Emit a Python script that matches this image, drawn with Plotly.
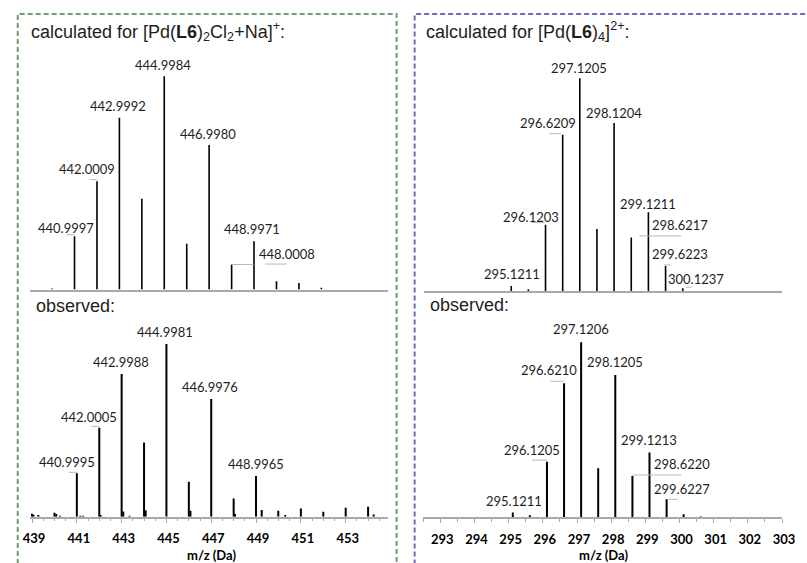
import plotly.graph_objects as go

W, H = 807, 563

# ---------------- data (m/z, relative intensity %) ----------------
calc_L_mz = [440.0000, 440.9997, 442.0009, 442.9992, 444.0000, 444.9984, 446.0000,
             446.9980, 448.0008, 448.9971, 450.0000, 451.0000, 452.0000]
calc_L_int = [0.5, 25.0, 50.8, 80.5, 42.5, 100.0, 21.4, 67.7, 11.7, 22.6, 3.9, 3.1, 0.8]
calc_L_labels = ["440.9997", "442.0009", "442.9992", "444.9984", "446.9980", "448.9971", "448.0008"]

obs_L_mz = [439.00, 439.06, 439.28, 440.00, 440.08, 440.25, 440.9995, 441.15, 441.28,
            442.0005, 442.06, 442.9988, 443.07, 443.35, 443.9990, 444.07, 444.9981,
            445.9985, 446.07, 446.9976, 447.9990, 448.06, 448.9965, 449.25, 449.99,
            450.30, 451.00, 452.00, 453.00, 454.00, 454.25]
obs_L_int = [1.7, 1.2, 1.0, 2.3, 1.5, 0.6, 25.1, 0.5, 0.5,
             51.5, 1.0, 82.6, 3.0, 0.6, 43.0, 3.8, 100.0,
             20.3, 3.5, 68.2, 10.6, 1.5, 23.6, 3.9, 3.5,
             1.0, 4.8, 2.9, 5.2, 5.8, 1.3]
obs_L_labels = ["440.9995", "442.0005", "442.9988", "444.9981", "446.9976", "448.9965"]

calc_R_mz = [295.1211, 295.6200, 296.1203, 296.6209, 297.1205, 297.6200, 298.1204,
             298.6217, 299.1211, 299.6223, 300.1237]
calc_R_int = [2.4, 0.8, 31.2, 73.5, 100.0, 29.1, 79.0, 25.2, 37.0, 11.8, 1.3]
calc_R_labels = ["295.1211", "296.1203", "296.6209", "297.1205", "298.1204",
                 "299.1211", "298.6217", "299.6223", "300.1237"]

obs_R_mz = [295.1211, 295.6200, 296.1205, 296.6210, 297.1206, 297.6200, 298.1205,
            298.6220, 299.1213, 299.6227, 300.1200, 300.6200]
obs_R_int = [2.7, 1.1, 31.8, 76.6, 100.0, 28.0, 81.3, 23.6, 37.0, 10.3, 1.7, 0.4]
obs_R_labels = ["295.1211", "296.1205", "296.6210", "297.1206", "298.1205",
                "299.1213", "298.6220", "299.6227"]

left_ticks = [439, 441, 443, 445, 447, 449, 451, 453]
right_ticks = [293, 294, 295, 296, 297, 298, 299, 300, 301, 302, 303]

# ---------------- layout geometry (pixels) ----------------
# label offsets (px) relative to peak top: (dx, dy_up)
label_off = {
    "440.9997": (-9, 8.5), "442.0009": (-10, 12.5), "442.9992": (-1, 11.5),
    "444.9984": (-1, 11.5), "446.9980": (-1, 11.5), "448.9971": (-1.5, 12.5),
    "448.0008": (55, 11),
    "440.9995": (-10, 11), "442.0005": (-10, 11), "442.9988": (-0.5, 12.3),
    "444.9981": (-1, 12.3), "446.9976": (-1, 12), "448.9965": (0, 12),
    "295.1211": (1, 12), "296.1203": (-15, 7.5), "296.6209": (-15, 12),
    "297.1205": (-0.5, 10), "298.1204": (0, 10.2), "299.1211": (0, 8),
    "298.6217": (49, 12.7), "299.6223": (14, 12), "300.1237": (13, 9.3),
    "296.1205": (-15, 11.7), "296.6210": (-14.7, 13), "297.1206": (0, 13),
    "298.1205": (0, 13.3), "299.1213": (0, 12.5), "298.6220": (50, 12),
    "299.6227": (15, 10),
}
# leader segments (px) relative to peak top: (x0, x1, dy_up)
leaders = {
    "440.9997": [(-8, 0, 1.5)], "442.0009": [(-7, 0, 1.5)],
    "448.0008": [(0, 22, 0), (33.5, 55, 0.5)],
    "440.9995": [(-8, 0, 1)], "442.0005": [(-8, 0, 1.5)],
    "296.1203": [(-14, -1, 2)], "296.6209": [(-13, -2, 1)],
    "298.6217": [(8, 50, 1.5)], "299.6223": [(-2, 5, 1)], "300.1237": [(3, 9, 1)],
    "296.1205": [(-15, 0, 1.5)], "296.6210": [(-14, 0, 2)],
    "298.6220": [(0, 49, 1)], "299.6227": [(2, 11, 0)],
}

panels = [
    dict(ax="", mz=calc_L_mz, it=calc_L_int, lab=calc_L_labels, xp=(23, 390),
         xr=(439.034, 454.962), yt=45, yb=289.5, h100=213.3, lw=1.6, bottom=False),
    dict(ax="2", mz=obs_L_mz, it=obs_L_int, lab=obs_L_labels, xp=(23, 390),
         xr=(438.926, 454.882), yt=330, yb=516.7, h100=172.7, lw=2.0, bottom=True,
         ticks=left_ticks, minor=0.5),
    dict(ax="3", mz=calc_R_mz, it=calc_R_int, lab=calc_R_labels, xp=(427, 795),
         xr=(292.573, 303.027), yt=45, yb=291, h100=212.7, lw=1.6, bottom=False),
    dict(ax="4", mz=obs_R_mz, it=obs_R_int, lab=obs_R_labels, xp=(426, 795),
         xr=(292.49, 303.009), yt=330, yb=517.3, h100=175.0, lw=2.0, bottom=True,
         ticks=right_ticks, minor=0.5),
]

AXIS_GREY = "#a9a9a9"
TXT = "#1e1e1e"
LBL_FONT = dict(family="Lato, Open Sans, sans-serif", size=13, color=TXT)

fig = go.Figure()
annotations = []
shapes = []
layout = {}

for p in panels:
    xs, ys = [], []
    for m, v in zip(p["mz"], p["it"]):
        xs += [m, m, None]
        ys += [0, v, None]
    xa = "x" + p["ax"]
    ya = "y" + p["ax"]
    fig.add_trace(go.Scatter(x=xs, y=ys, mode="lines", xaxis=xa, yaxis=ya,
                             line=dict(color="black", width=p["lw"]),
                             hoverinfo="skip", showlegend=False))
    ytop = 100.0 * (p["yb"] - p["yt"]) / p["h100"]
    xdict = dict(domain=[p["xp"][0] / W, p["xp"][1] / W], range=list(p["xr"]),
                 anchor=ya, showgrid=False, zeroline=False, showline=True,
                 linecolor=AXIS_GREY, linewidth=1.6, fixedrange=True)
    if p["bottom"]:
        xdict.update(tickmode="array", tickvals=p["ticks"],
                     ticktext=[str(t) for t in p["ticks"]],
                     ticks="outside", ticklen=4, tickwidth=1, tickcolor=AXIS_GREY,
                     ticklabelstandoff=5, ticklabelshift=2, ticklabeloverflow="allow",
                     tickfont=dict(family="Lato, Open Sans, sans-serif", size=13,
                                   color="black", weight="bold"),
                     minor=dict(dtick=p["minor"], tick0=p["ticks"][0], ticks="outside",
                                ticklen=2.5, tickwidth=1, tickcolor=AXIS_GREY,
                                showgrid=False))
    else:
        xdict.update(ticks="", showticklabels=False)
    ydict = dict(domain=[1 - p["yb"] / H, 1 - p["yt"] / H], range=[0, ytop],
                 anchor=xa, visible=False, fixedrange=True)
    layout["xaxis" + p["ax"]] = xdict
    layout["yaxis" + p["ax"]] = ydict

    for lab in p["lab"]:
        target = float(lab)
        idx = min(range(len(p["mz"])), key=lambda i: abs(p["mz"][i] - target))
        m, v = p["mz"][idx], p["it"][idx]
        dx, dy = label_off.get(lab, (0, 12))
        annotations.append(dict(x=m, y=v, xref=xa, yref=ya, text=lab, showarrow=False,
                                xshift=dx, yshift=dy, font=LBL_FONT,
                                xanchor="center", yanchor="middle"))
        for (x0, x1, yy) in leaders.get(lab, []):
            shapes.append(dict(type="line", xref=xa, yref=ya,
                               xsizemode="pixel", ysizemode="pixel",
                               xanchor=m, yanchor=v, x0=x0, x1=x1, y0=yy, y1=yy,
                               line=dict(color="#b8b8b8", width=1)))

# panel titles
TITLE_FONT = dict(family="Liberation Sans, Arial, sans-serif", size=18, color=TXT)
titles = [
    ("calculated for [Pd(<b>L6</b>)<sub>2</sub>Cl<sub>2</sub>+Na]<sup>+</sup>:", 22, 32),
    ("observed:", 27, 306),
    ("calculated for [Pd(<b>L6</b>)<sub>4</sub>]<sup>2+</sup>:", 427, 31),
    ("observed:", 431.5, 305),
]
for t, px, py in titles:
    annotations.append(dict(x=px / W, y=1 - py / H, xref="paper", yref="paper", text=t,
                            showarrow=False, xanchor="left", yanchor="middle",
                            font=TITLE_FONT))
# x-axis titles
for px in [(23 + 390) / 2 + 2, (426 + 795) / 2 + 1]:
    annotations.append(dict(x=px / W, y=1 - 555 / H, xref="paper", yref="paper",
                            text="<b>m/z (Da)</b>", showarrow=False,
                            xanchor="center", yanchor="middle",
                            font=dict(family="Lato, Open Sans, sans-serif", size=13,
                                      color="black")))

# dashed frames
shapes.append(dict(type="rect", xref="paper", yref="paper", x0=10 / W, x1=399 / W,
                   y0=-0.05, y1=1 - 14 / H, layer="below",
                   line=dict(color="#719a70", width=2, dash="5px,3px"),
                   fillcolor="rgba(0,0,0,0)"))
shapes.append(dict(type="rect", xref="paper", yref="paper", x0=417.5 / W, x1=1.05,
                   y0=-0.05, y1=1 - 14 / H, layer="below",
                   line=dict(color="#6a6abf", width=2, dash="5px,3px"),
                   fillcolor="rgba(0,0,0,0)"))

fig.update_layout(width=W, height=H, margin=dict(l=0, r=0, t=0, b=0),
                  paper_bgcolor="white", plot_bgcolor="rgba(0,0,0,0)",
                  showlegend=False, annotations=annotations, shapes=shapes, **layout)

fig.write_html("out.html", include_plotlyjs=True, config={"displayModeBar": False})
